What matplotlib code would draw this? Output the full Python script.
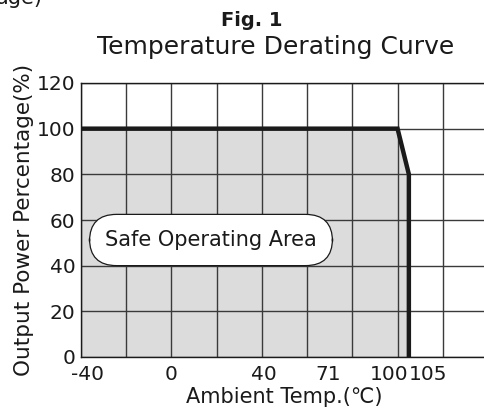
import matplotlib
matplotlib.use("Agg")
import matplotlib.pyplot as plt
import matplotlib.transforms as mtransforms
from matplotlib.ticker import MultipleLocator
import numpy as np

# Data
temps = [-40, 100, 105, 105]
power = [100, 100, 80, 0]
xtick_vals = [-40, 0, 40, 71, 100, 105]
xtick_labels = ["-40", "0", "40", "71", "100", "105"]
ytick_vals = [0, 20, 40, 60, 80, 100, 120]

plt.rcParams['font.family'] = ['DejaVu Sans']

fig = plt.figure(figsize=(4.84, 4.18), dpi=100)
W, H = 484, 418
ax = fig.add_axes([81 / W, 61 / H, (488 - 81) / W, (357 - 83) / H])
ax.set_xlim(-40, 140)
ax.set_ylim(0, 120)

# fill + curve
ax.fill_between(temps, power, 0, color="#dcdcdc", zorder=1, linewidth=0)
ax.plot(temps, power, color="#1a1a1a", linewidth=3.2, zorder=4, solid_joinstyle="miter")

# grid
ax.xaxis.remove_overlapping_locs = False
ax.xaxis.set_minor_locator(MultipleLocator(20))
ax.set_yticks(ytick_vals)
ax.grid(which="minor", axis="x", color="#3a3a3a", linewidth=1.0, zorder=2)
ax.grid(which="major", axis="y", color="#3a3a3a", linewidth=1.0, zorder=2)
ax.set_axisbelow(False)

ax.set_xticks(xtick_vals)
ax.set_xticklabels(xtick_labels)
ax.tick_params(axis="both", which="both", length=0, labelsize=14.5, colors="#1a1a1a")
ax.tick_params(axis="x", pad=6)
ax.tick_params(axis="y", pad=4)

offsets = [6, 0, 2, -4, -8, 19]
for lab, dx in zip(ax.get_xticklabels(), offsets):
    lab.set_transform(lab.get_transform() + mtransforms.ScaledTranslation(dx / 100, 0, fig.dpi_scale_trans))

for s in ["top", "left", "bottom", "right"]:
    ax.spines[s].set_color("#1a1a1a")
    ax.spines[s].set_linewidth(1.0)
    ax.spines[s].set_zorder(3)

ax.set_xlabel("Ambient Temp.(℃)", fontsize=15, color="#1a1a1a", labelpad=2)
ax.set_ylabel("Output Power Percentage(%)", fontsize=15.5, color="#1a1a1a", labelpad=2)

ax.annotate("Safe Operating Area", xy=(211, 418 - 240), xycoords="figure pixels",
            ha="center", va="center", fontsize=15, color="#1a1a1a", zorder=6,
            bbox=dict(boxstyle="round,pad=0.75,rounding_size=1.3", fc="white", ec="#1a1a1a", lw=0.9))

fig.text(252 / W, 1 - 20 / H, "Fig. 1", ha="center", va="center", fontsize=14, fontweight="bold", color="#1a1a1a")
fig.text(276 / W, 1 - 47 / H, "Temperature Derating Curve", ha="center", va="center", fontsize=18, color="#1a1a1a")
fig.text(-4 / W, 1 + 2 / H, "age)", ha="left", va="center", fontsize=15, color="#1a1a1a")

fig.savefig("out.png", dpi=100)
